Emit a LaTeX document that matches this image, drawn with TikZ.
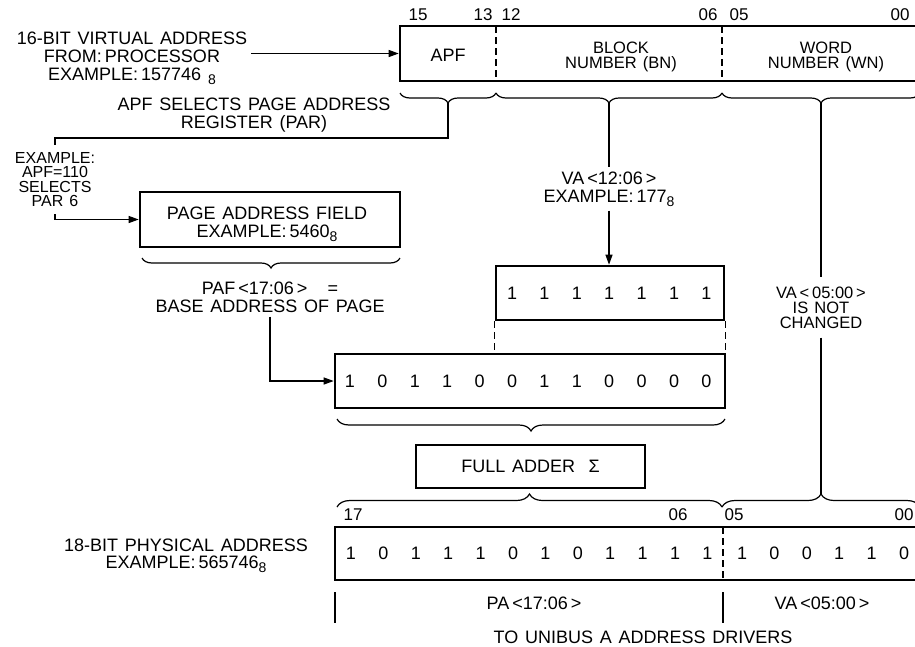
\documentclass[tikz,border=0pt]{standalone}
\usepackage{fontspec}
\setmainfont[WordSpace=1.35]{Liberation Sans}
\usetikzlibrary{arrows.meta,decorations.pathreplacing,calc}
\newcommand\octsub{\raisebox{-4pt}{\fontsize{14}{14}\selectfont 8}}
\begin{document}
\begin{tikzpicture}[x=1pt,y=-1pt,
  txt/.style={font=\fontsize{18}{18}\selectfont, inner sep=0pt, align=center},
  box/.style={draw, line width=2.6pt, inner sep=0pt, font=\fontsize{18}{18}\selectfont},
  conn/.style={line width=1.2pt},
  arr/.style={conn, -{Triangle[length=10pt,width=7pt]}},
  divl/.style={line width=1.4pt, dash pattern=on 7pt off 4pt},
  brc/.style={line width=1.2pt, decorate, decoration={brace, amplitude=#1}},
  brc/.default=10pt,
  brcd/.style={line width=1.2pt, decorate, decoration={brace, amplitude=#1, mirror}},
  brcd/.default=10pt,
  tight/.style={font=\fontsize{16.5}{15}\selectfont},
  digit/.style={font=\fontsize{18}{18}\selectfont, inner sep=0pt},
  bitnum/.style={font=\fontsize{17}{17}\selectfont, inner sep=0pt}]
\useasboundingbox (0,0) rectangle (915,646);
\clip (0,0) rectangle (915,646);

% ---- 16-bit virtual address ----
\node[txt] (vain) at (132,58) {16-BIT VIRTUAL ADDRESS\\FROM:\,PROCESSOR\\EXAMPLE:\,157746\ \octsub};
\node[box, minimum width=520pt, minimum height=55pt] (vabox) at (660,53.5) {};
\draw[divl] (496,26) -- (496,81);
\draw[divl] (722,26) -- (722,81);
\node[txt] (apf) at (448,55) {APF};
\node[txt, tight] (bn) at (621,57) {BLOCK\\NUMBER (BN)};
\node[txt, tight] (wn) at (826,57) {WORD\\NUMBER (WN)};
\node[bitnum] (b15) at (418,15) {15};
\node[bitnum] (b13) at (483,15) {13};
\node[bitnum] (b12) at (511,15) {12};
\node[bitnum] (b06) at (708,15) {06};
\node[bitnum] (b05) at (739,15) {05};
\node[bitnum] (b00) at (900,15) {00};
\draw[arr] ([xshift=4pt]vabox.west -| vain.east) -- (vabox.west);

% braces under the virtual address
\draw[brcd] (400,93) -- (496,93);
\draw[brcd] (496,93) -- (722,93);
\draw[brcd] (722,93) -- (920,93);
\coordinate (apftip) at (448,103);
\coordinate (bntip) at (609,103);
\coordinate (wntip) at (821,103);

% ---- APF selects PAR ----
\node[txt] (apfl) at (254,115) {APF SELECTS PAGE ADDRESS\\REGISTER (PAR)};
\node[txt, font=\fontsize{16}{14.5}\selectfont, inner ysep=7pt] (exl) at (55,179.5) {EXAMPLE:\\APF=110\\SELECTS\\PAR 6};
\coordinate (parbend) at (55,138);
\draw[conn] (apftip) |- (parbend) -- (exl.north);
\node[box, minimum width=260pt, minimum height=55pt] (paf) at (270,219.5) {};
\node[txt] (paft) at (267,224) {PAGE ADDRESS FIELD\\EXAMPLE:\,5460\octsub};
\draw[arr] (exl.south) |- (paf.west);
\draw[brcd] (142,258) -- (400,258);
\node[txt, inner ysep=4pt] (pafl) at (270,297) {PAF\,<17:06\,>\ \ \ =\\BASE ADDRESS OF PAGE};

% ---- block number path ----
\node[txt, inner ysep=4pt] (val) at (609,189) {VA\,<12:06\,>\\EXAMPLE:\,177\octsub};
\node[box, minimum width=228pt, minimum height=54pt] (box7) at (610,293) {};
\foreach \i in {1,...,7} {
  \node[digit] (s\i) at ({350+32.4*(\i+4)},293) {1};
}
\draw[conn] (bntip) -- (bntip |- val.north);
\draw[arr] (val.south -| bntip) -- (bntip |- box7.north);

% ---- adder input register ----
\node[box, minimum width=390pt, minimum height=54pt] (box12) at (530,381) {};
\foreach \b [count=\i] in {1,0,1,1,0,0,1,1,0,0,0,0} {
  \node[digit] (q\i) at ({350+32.4*(\i-1)},381) {\b};
}
\draw[divl] (box7.south west) -- (box7.south west |- box12.north);
\draw[divl] (box7.south east) -- (box7.south east |- box12.north);
\draw[arr] (pafl.south) |- (box12.west);
\draw[brcd=12pt] (337,419) -- (725,419);

% ---- full adder ----
\node[box, minimum width=229pt, minimum height=43pt] (fa) at (530.5,466.5) {FULL ADDER \ Σ};

% ---- word number path ----
\node[txt, tight, inner ysep=9pt] (vanc) at (821,307.5) {VA\,<\,05:00\,>\\IS NOT\\CHANGED};
\draw[conn] (wntip) -- (wntip |- vanc.north);
\coordinate (wnend) at (821,494);
\draw[conn] (vanc.south -| wntip) -- (wnend);

% ---- 18-bit physical address ----
\draw[brc=13pt] (337,507) -- (722,507);
\draw[brc=13pt] (722,507) -- (920,507);
\node[txt, font=\fontsize{18}{17.5}\selectfont] (phl) at (186,556) {18-BIT PHYSICAL ADDRESS\\EXAMPLE:\,565746\octsub};
\node[box, minimum width=585pt, minimum height=53pt] (pa) at (627.5,553.5) {};
\draw[divl] (723,527) -- (723,580);
\node[bitnum] (c17) at (353,515) {17};
\node[bitnum] (c06) at (678,515) {06};
\node[bitnum] (c05) at (734,515) {05};
\node[bitnum] (c00) at (904,515) {00};
\foreach \b [count=\i] in {1,0,1,1,1,0,1,0,1,1,1,1} {
  \node[digit] (h\i) at ({351+32.4*(\i-1)},553) {\b};
}
\foreach \b [count=\i] in {1,0,0,1,1,0} {
  \node[digit] (l\i) at ({742+32.4*(\i-1)},553) {\b};
}
\draw[conn] (335,592) -- (335,623);
\draw[conn] (723,592) -- (723,623);
\node[txt] (pal) at (534,603) {PA\,<17:06\,>};
\node[txt] (val2) at (822,603) {VA\,<05:00\,>};
\node[txt] (unib) at (643,637) {TO UNIBUS A ADDRESS DRIVERS};
\end{tikzpicture}
\end{document}
